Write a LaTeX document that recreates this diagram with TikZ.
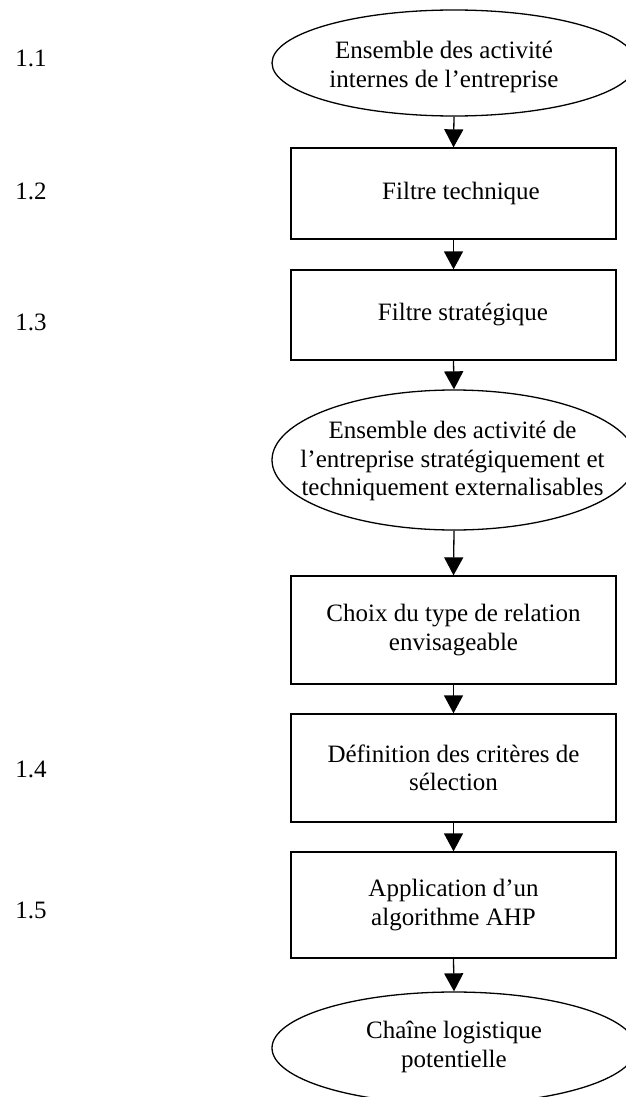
\documentclass[tikz,border=0pt]{standalone}
\usepackage{fontspec}
\setmainfont{Liberation Serif}
\usetikzlibrary{shapes.geometric,arrows.meta}
\begin{document}
\begin{tikzpicture}[x=1pt,y=-1pt,
  every node/.style={font=\fontsize{25}{28.5}\selectfont},
  ell/.style={draw,line width=1.3pt,ellipse,inner sep=0pt,minimum width=364pt},
  txt/.style={align=center,inner sep=0pt},
  box/.style={draw,line width=1.3pt,rectangle,minimum width=325pt,inner sep=0pt,align=center},
  num/.style={inner sep=0pt},
  arr/.style={line width=1.3pt,-{Triangle[length=18pt,width=19pt]}}]
\useasboundingbox (0,0) rectangle (626,1097);
% shapes
\node[ell,minimum height=106pt] (e1) at (454,63) {};
\node[txt] (t1) at (444,67) {Ensemble des activité\\internes de l’entreprise};
\node[box,minimum height=91pt] (b1) at (453.5,193.5) {\hspace*{15pt}Filtre technique};
\node[box,minimum height=90pt] (b2) at (453.5,315) {\hspace*{19pt}Filtre stratégique};
\node[ell,minimum height=140pt] (e2) at (454,460) {};
\node[txt] (t2) at (452.5,461) {Ensemble des activité de\\l’entreprise stratégiquement et\\techniquement externalisables};
\node[box,minimum height=108pt] (b3) at (453.5,630) {Choix du type de relation\\envisageable};
\node[box,minimum height=108pt] (b4) at (453.5,768) {Définition des critères de\\sélection};
\node[box,minimum height=106pt] (b5) at (453.5,905) {Application d’un\\algorithme AHP};
\node[ell,minimum height=112pt] (e3) at (454,1048) {};
\node[txt] (t3) at (454,1047) {Chaîne logistique\\potentielle};
% numbers
\node[num] (n1) at (31,58) {1.1};
\node[num] (n2) at (31,191) {1.2};
\node[num] (n3) at (31,322) {1.3};
\node[num] (n4) at (31,769) {1.4};
\node[num] (n5) at (31,910) {1.5};
% connectors
\draw[arr] (e1.south) -- (b1.north);
\draw[arr] (b1.south) -- (b2.north);
\draw[arr] (b2.south) -- (e2.north);
\draw[arr] (e2.south) -- (b3.north);
\draw[arr] (b3.south) -- (b4.north);
\draw[arr] (b4.south) -- (b5.north);
\draw[arr] (b5.south) -- (e3.north);
\end{tikzpicture}
\end{document}
